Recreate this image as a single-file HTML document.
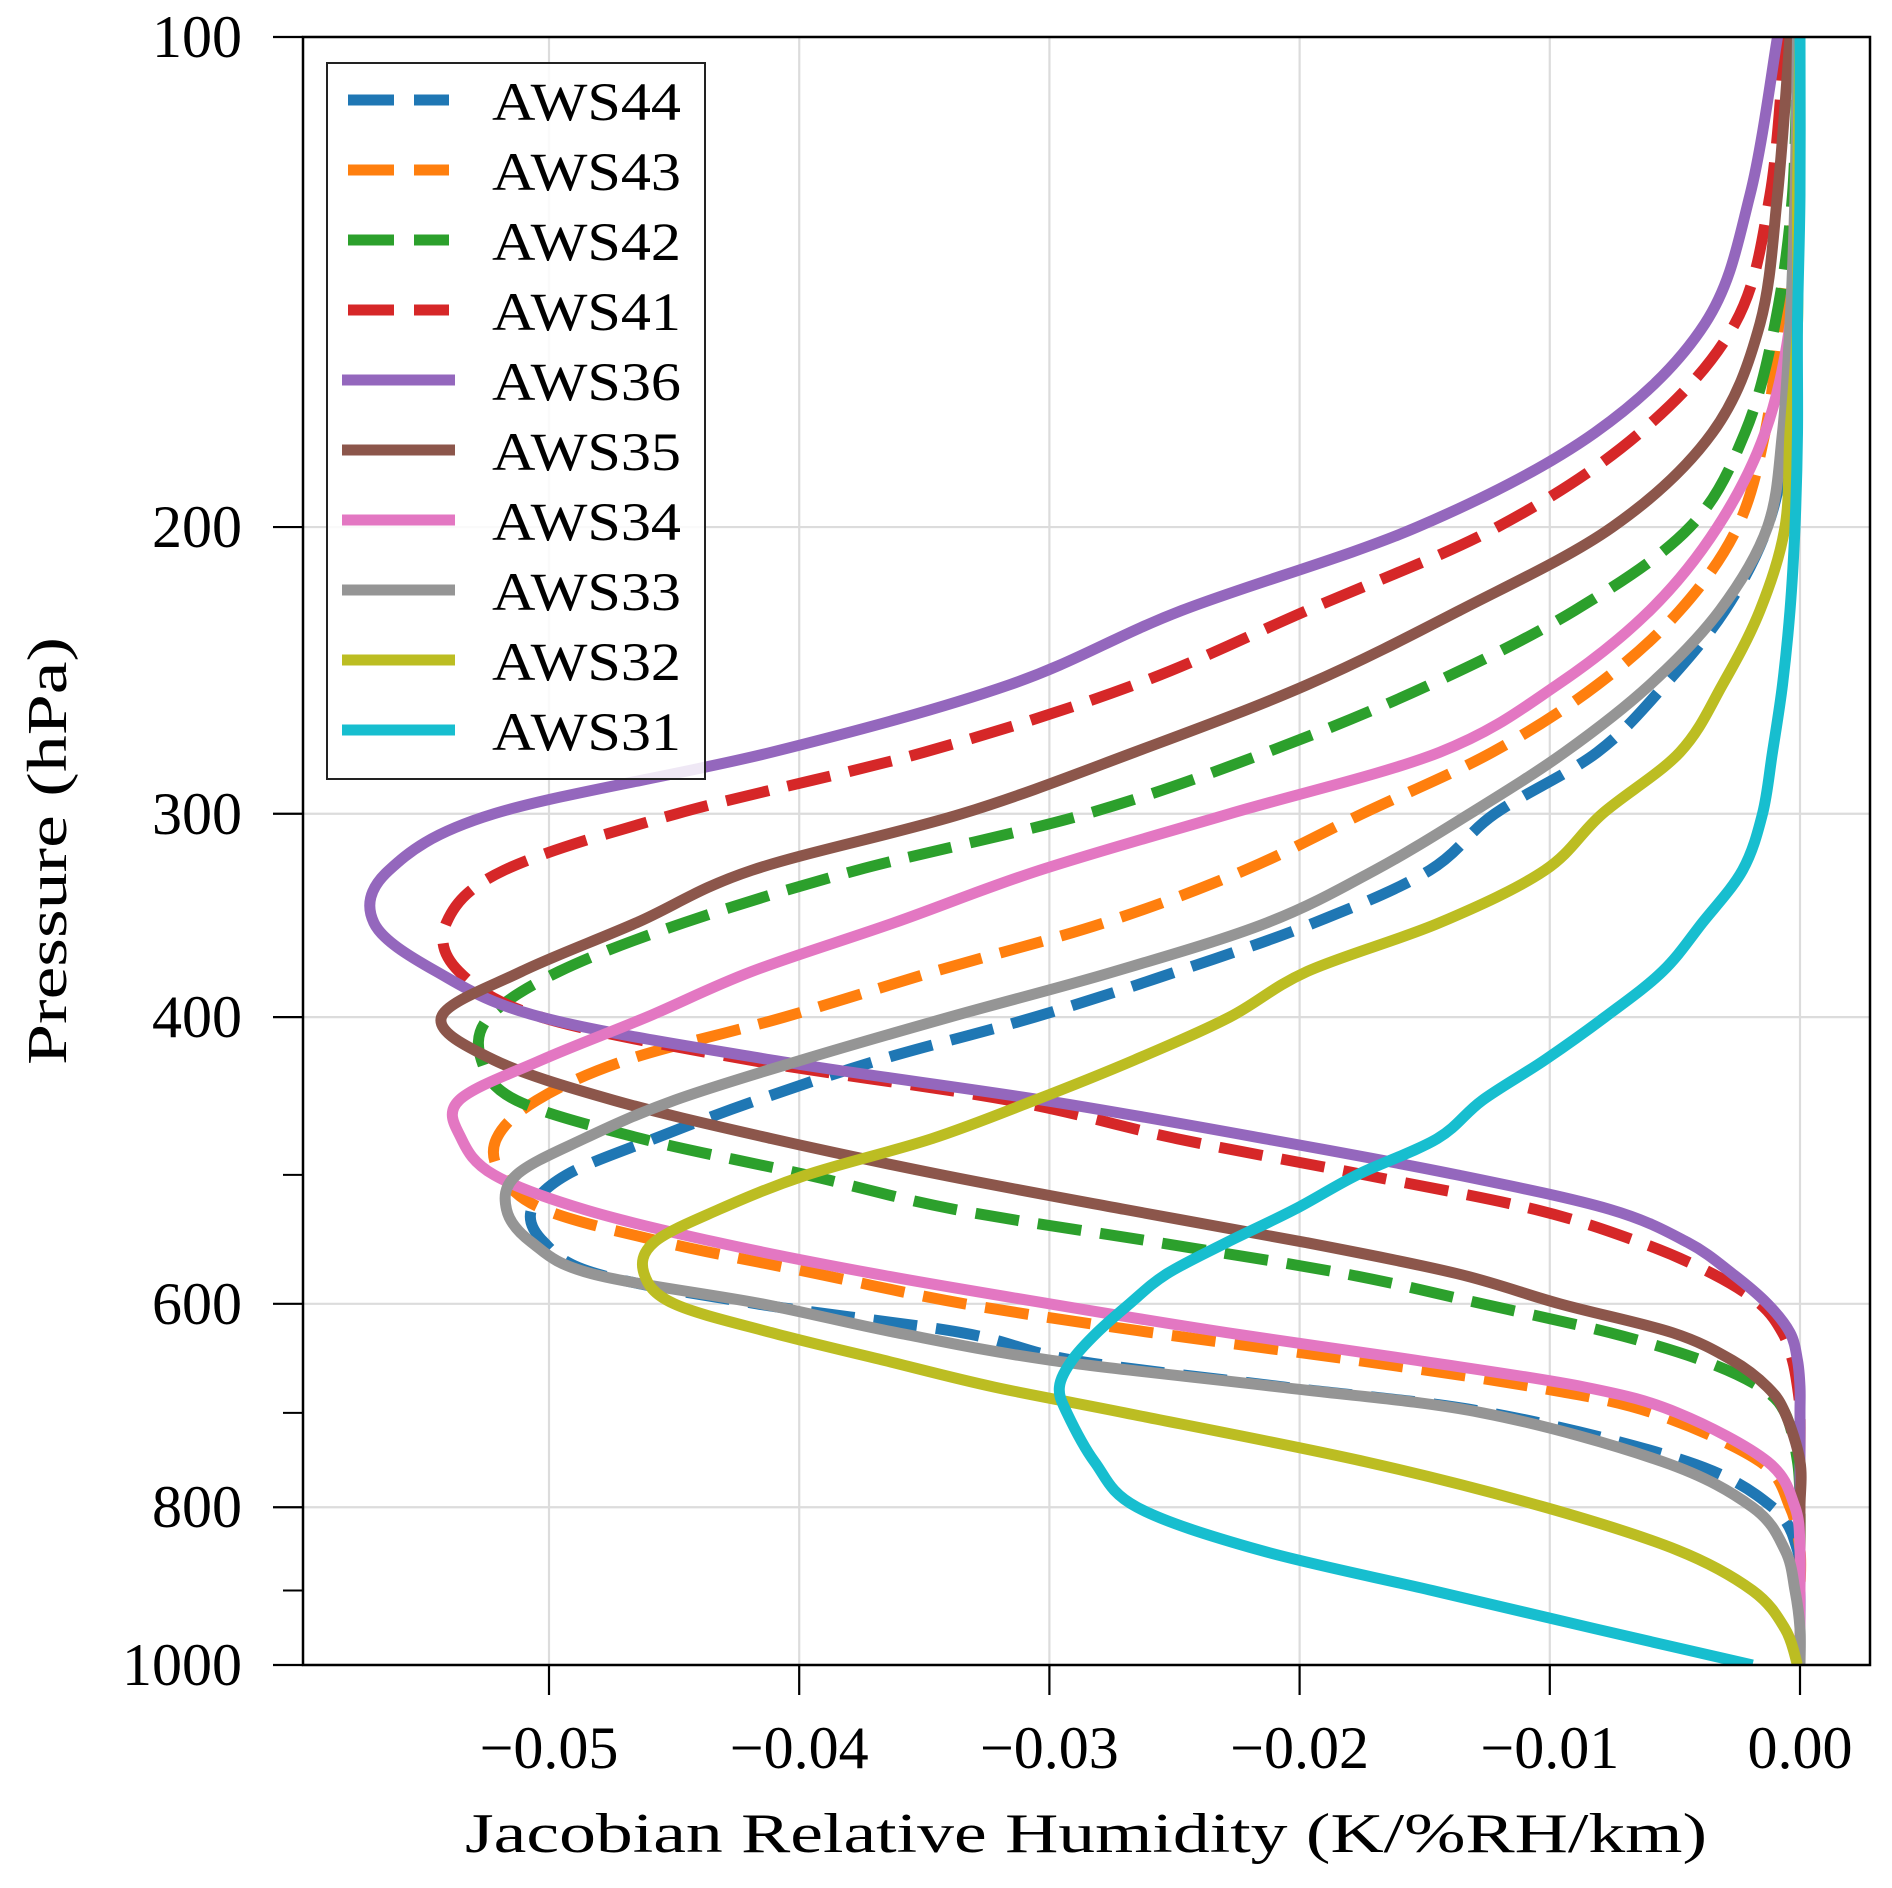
<!DOCTYPE html>
<html><head><meta charset="utf-8"><title>Jacobian Relative Humidity</title>
<style>
html,body{margin:0;padding:0;background:#fff;}
svg{display:block;}
text{font-family:"Liberation Serif","DejaVu Serif",serif;fill:#000;}
</style></head>
<body>
<svg id="chart" width="1892" height="1888" viewBox="0 0 1892 1888" xmlns="http://www.w3.org/2000/svg">
<defs><clipPath id="plotclip"><rect x="303" y="37" width="1567" height="1628"/></clipPath></defs>
<g id="grid"></g>
<g id="series" clip-path="url(#plotclip)"></g>
<rect x="303" y="37" width="1567" height="1628" fill="none" stroke="#000" stroke-width="2.5"/>
<g id="ticks"></g>
<g id="legend"></g>
<text x="1086" y="1852" font-size="56" text-anchor="middle" textLength="1242" lengthAdjust="spacingAndGlyphs">Jacobian Relative Humidity (K/%RH/km)</text>
<text transform="translate(66,851) rotate(-90)" font-size="56" text-anchor="middle" textLength="428" lengthAdjust="spacingAndGlyphs">Pressure (hPa)</text>
</svg>
<script>
const pressures = [100,125,150,175,200,225,250,275,300,325,350,375,400,425,450,475,500,525,550,575,600,625,650,675,700,750,800,850,900,950,1000];
const seriesNames = ["AWS44","AWS43","AWS42","AWS41","AWS36","AWS35","AWS34","AWS33","AWS32","AWS31"];
const aws44 = [0,-0.0001,-0.0003,-0.0005,-0.0013,-0.0030,-0.0054,-0.0081,-0.0122,-0.0148,-0.0194,-0.0249,-0.0306,-0.0368,-0.0417,-0.0458,-0.0493,-0.0507,-0.0502,-0.0481,-0.0417,-0.0335,-0.0290,-0.0206,-0.0124,-0.0045,-0.0011,-0.0001,0,0,0];
const aws43 = [0,-0.0002,-0.0008,-0.0014,-0.0025,-0.0048,-0.0081,-0.0123,-0.0175,-0.0222,-0.0278,-0.0346,-0.0406,-0.0469,-0.0505,-0.0521,-0.0519,-0.0502,-0.0454,-0.0393,-0.0334,-0.0259,-0.0177,-0.0106,-0.0059,-0.0016,-0.0004,0,0,0,0];
const aws42 = [-0.0001,-0.0003,-0.0010,-0.0022,-0.0044,-0.0090,-0.0148,-0.0213,-0.0285,-0.0377,-0.0446,-0.0496,-0.0524,-0.0527,-0.0513,-0.0463,-0.0397,-0.0338,-0.0257,-0.0182,-0.0127,-0.0076,-0.0039,-0.0016,-0.0006,-0.0001,0,0,0,0,0];
const aws41 = [-0.0006,-0.0012,-0.0026,-0.0064,-0.0121,-0.0197,-0.0266,-0.0350,-0.0449,-0.0518,-0.0541,-0.0536,-0.0503,-0.0420,-0.0316,-0.0249,-0.0174,-0.0106,-0.0064,-0.0035,-0.0016,-0.0007,-0.0003,-0.0001,0,0,0,0,0,0,0];
const aws36 = [-0.0009,-0.0020,-0.0038,-0.0082,-0.0153,-0.0247,-0.0316,-0.0411,-0.0522,-0.0564,-0.0570,-0.0545,-0.0503,-0.0411,-0.0302,-0.0214,-0.0137,-0.0076,-0.0045,-0.0027,-0.0013,-0.0004,-0.0001,0,0,0,0,0,0,0,0];
const aws35 = [-0.0004,-0.0009,-0.0016,-0.0035,-0.0075,-0.0136,-0.0197,-0.0266,-0.0335,-0.0419,-0.0465,-0.0511,-0.0543,-0.0522,-0.0474,-0.0411,-0.0343,-0.0270,-0.0198,-0.0137,-0.0096,-0.0051,-0.0027,-0.0013,-0.0006,0,0,0,0,0,0];
const aws34 = [0,-0.0001,-0.0004,-0.0014,-0.0033,-0.0060,-0.0097,-0.0144,-0.0228,-0.0304,-0.0362,-0.0419,-0.0461,-0.0503,-0.0536,-0.0535,-0.0522,-0.0486,-0.0433,-0.0370,-0.0300,-0.0229,-0.0153,-0.0086,-0.0049,-0.0013,-0.0002,0,0,0,0];
const aws33 = [-0.0001,-0.0002,-0.0004,-0.0007,-0.0013,-0.0032,-0.0060,-0.0094,-0.0132,-0.0170,-0.0213,-0.0274,-0.0340,-0.0399,-0.0450,-0.0486,-0.0513,-0.0517,-0.0507,-0.0483,-0.0415,-0.0361,-0.0299,-0.0208,-0.0127,-0.0055,-0.0019,-0.0006,-0.0002,0,0];
const aws32 = [0,-0.0001,-0.0001,-0.0004,-0.0006,-0.0016,-0.0031,-0.0048,-0.0079,-0.0102,-0.0144,-0.0197,-0.0228,-0.0266,-0.0306,-0.0347,-0.0397,-0.0432,-0.0458,-0.0462,-0.0450,-0.0411,-0.0366,-0.0322,-0.0270,-0.0174,-0.0102,-0.0049,-0.0019,-0.0006,-0.0001];
const aws31 = [0,0,-0.0001,-0.0001,-0.0002,-0.0004,-0.0007,-0.0011,-0.0015,-0.0023,-0.0039,-0.0055,-0.0078,-0.0102,-0.0127,-0.0145,-0.0177,-0.0202,-0.0229,-0.0253,-0.0268,-0.0281,-0.0291,-0.0296,-0.0293,-0.0282,-0.0265,-0.0216,-0.0147,-0.0082,-0.0019];
const xTicks = [-0.05,-0.04,-0.03,-0.02,-0.01,0];
const xTickLabels = ["\u22120.05","\u22120.04","\u22120.03","\u22120.02","\u22120.01","0.00"];
const yTicks = [100,200,300,400,600,800,1000];
const yTickLabels = ["100","200","300","400","600","800","1000"];
const yMinorTicks = [500,700,900];

const seriesValues = [aws44,aws43,aws42,aws41,aws36,aws35,aws34,aws33,aws32,aws31];
const colors = ["#1f77b4","#ff7f0e","#2ca02c","#d62728","#9467bd","#8c564b","#e377c2","#959595","#bcbd22","#17becf"];
const dashed = [true,true,true,true,false,false,false,false,false,false];

const NS = "http://www.w3.org/2000/svg";
const X0 = 1800, XS = 25020;
function xScale(v){ return X0 + v*XS; }
function yScale(p){ return 37 + 1628*Math.log10(p/100); }
function mk(tag, attrs, parent){
  const e = document.createElementNS(NS, tag);
  for (const k in attrs) e.setAttribute(k, attrs[k]);
  parent.appendChild(e);
  return e;
}
function smoothPath(pts){
  let d = 'M' + pts[0][0].toFixed(1) + ',' + pts[0][1].toFixed(1);
  for (let i = 0; i < pts.length - 1; i++){
    const p0 = pts[Math.max(0,i-1)], p1 = pts[i], p2 = pts[i+1], p3 = pts[Math.min(pts.length-1,i+2)];
    const c1x = p1[0] + (p2[0]-p0[0])/6, c1y = p1[1] + (p2[1]-p0[1])/6;
    const c2x = p2[0] - (p3[0]-p1[0])/6, c2y = p2[1] - (p3[1]-p1[1])/6;
    d += ' C' + c1x.toFixed(1) + ',' + c1y.toFixed(1) + ' ' + c2x.toFixed(1) + ',' + c2y.toFixed(1) + ' ' + p2[0].toFixed(1) + ',' + p2[1].toFixed(1);
  }
  return d;
}
const grid = document.getElementById('grid');
const ticks = document.getElementById('ticks');
xTicks.forEach((t,i)=>{
  const x = xScale(t);
  const g = mk('line',{x1:x,x2:x,y1:37,y2:1665,stroke:'#dcdcdc','stroke-width':2.2},grid);
  
  
  const tk = mk('line',{x1:x,x2:x,y1:1665,y2:1695,stroke:'#000','stroke-width':2.2},ticks);
  
  
  const lb = mk('text',{x:x,y:1768,'font-size':60,'text-anchor':'middle'},ticks);
  lb.textContent = xTickLabels[i];
  
  
});
yTicks.forEach((t,i)=>{
  const y = yScale(t);
  const g = mk('line',{x1:303,x2:1870,y1:y,y2:y,stroke:'#dcdcdc','stroke-width':2.2},grid);
  
  
  const tk = mk('line',{x1:273,x2:303,y1:y,y2:y,stroke:'#000','stroke-width':2.2},ticks);
  
  
  const lb = mk('text',{x:242,y:y+20,'font-size':60,'text-anchor':'end'},ticks);
  lb.textContent = yTickLabels[i];
  
  
});
yMinorTicks.forEach(t=>{
  const y = yScale(t);
  const tk = mk('line',{x1:283,x2:303,y1:y,y2:y,stroke:'#000','stroke-width':2},ticks);
  
  
});
const sg = document.getElementById('series');
seriesValues.forEach((vals,si)=>{
  const pts = vals.map((v,i)=>[xScale(v), yScale(pressures[i])]);
  const attrs = {d:smoothPath(pts),fill:'none',stroke:colors[si],'stroke-width':11,'stroke-linejoin':'round'};
  if (dashed[si]) attrs['stroke-dasharray'] = '44 19';
  const p = mk('path',attrs,sg);
  
  
});
const lg = document.getElementById('legend');
const box = mk('rect',{x:327,y:63,width:378,height:716,fill:'#fff','fill-opacity':0.85,stroke:'#222','stroke-width':2},lg);


seriesNames.forEach((n,i)=>{
  const y = 102 + i*70;
  const ent = mk('g',{},lg);
  
  
  const la = {x1:dashed[i]?348:342,x2:dashed[i]?449:455,y1:y-2,y2:y-2,stroke:colors[i],'stroke-width':11};
  if (dashed[i]) la['stroke-dasharray'] = '46 20';
  const ln = mk('line',la,ent);
  
  
  const tx = mk('text',{x:492,y:y+18,'font-size':54,textLength:189,lengthAdjust:'spacingAndGlyphs'},ent);
  tx.textContent = n;
  
  
});
</script>
</body></html>
